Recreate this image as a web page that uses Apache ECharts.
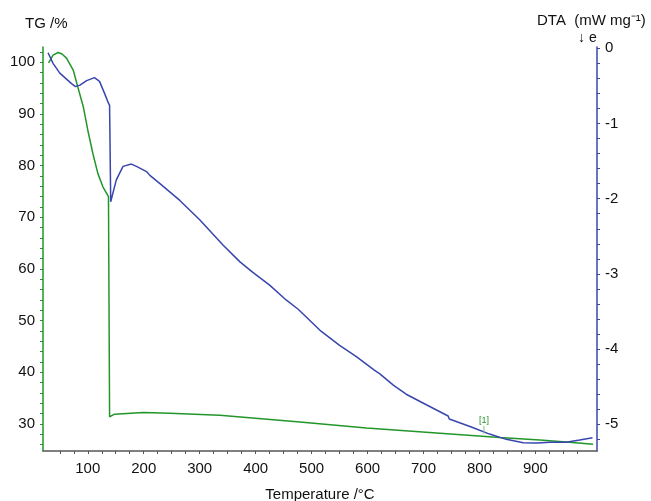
<!DOCTYPE html>
<html>
<head>
<meta charset="utf-8">
<script src="https://cdn.jsdelivr.net/npm/echarts@6/dist/echarts.min.js"></script>
<style>
  html, body { margin: 0; padding: 0; background: #fff; }
  #chart { width: 651px; height: 501px; }
</style>
</head>
<body>
<div id="chart"></div>
<script>
// TG curve (left axis, %)
var tgTemp  = [30, 38, 47, 54, 62, 74, 82, 92, 100, 109, 118, 127, 137, 139, 148, 199, 246, 336, 479, 598, 717, 836, 908, 955, 1003];
var tgValue = [99.9, 101.4, 101.9, 101.6, 100.8, 98.5, 95.3, 91.4, 86.9, 82.4, 78.5, 75.9, 74.0, 31.4, 31.9, 32.2, 32.1, 31.7, 30.4, 29.2, 28.3, 27.4, 26.9, 26.5, 26.1];

// DTA curve (right axis, mW mg-1)
var dtaTemp  = [29, 38, 50, 62, 71, 78, 86, 98, 112, 121, 130, 137, 139, 141, 151, 163, 178, 187, 205, 211, 229, 264, 300, 342, 372, 395, 425, 455, 476, 515, 550, 580, 612, 616, 622, 646, 669, 705, 744, 746, 749, 783, 790, 793, 818, 848, 878, 898, 900, 903, 926, 955, 979, 1002];
var dtaValue = [-0.06, -0.2, -0.33, -0.41, -0.47, -0.51, -0.49, -0.43, -0.39, -0.44, -0.6, -0.73, -0.76, -2.04, -1.75, -1.57, -1.54, -1.57, -1.64, -1.69, -1.8, -2.02, -2.28, -2.62, -2.84, -2.98, -3.15, -3.35, -3.47, -3.75, -3.95, -4.1, -4.28, -4.3, -4.33, -4.48, -4.6, -4.74, -4.89, -4.93, -4.91, -5.03, -5.05, -5.04, -5.13, -5.2, -5.245, -5.25, -5.27, -5.25, -5.24, -5.24, -5.21, -5.18];

// axis labels
var tempLabels = [100, 200, 300, 400, 500, 600, 700, 800, 900];
var tgLabels = [30, 40, 50, 60, 70, 80, 90, 100];
var dtaLabels = [0, -1, -2, -3, -4, -5];

// marker [1]
var markTemp = 808;
var markTg = 27.9;

var tempTicks = [], tgTicks = [], dtaTicks = [];
for (var t = 50; t <= 975; t += 25) tempTicks.push(t);
for (var g = 26; g <= 102; g += 2) tgTicks.push(g);
for (var k = 0; k <= 26; k++) dtaTicks.push(-k * 0.2);

var green = '#23962b';
var blue = '#3946ad';
var font = 'Liberation Sans, Arial, sans-serif';

var tgData = tgTemp.map(function (v, i) { return [v, tgValue[i]]; });
var dtaData = dtaTemp.map(function (v, i) { return [v, dtaValue[i]]; });

var option = {
    animation: false,
    backgroundColor: '#fff',
    textStyle: { fontFamily: font },
    grid: {
        left: 43,
        right: 54,
        top: 47,
        bottom: 50,
        containLabel: false,
        outerBoundsMode: 'none'
    },
    graphic: [
        {
            type: 'text', left: 25, top: 16,
            style: { text: 'TG /%', font: '15px ' + font, fill: '#111' }
        },
        {
            type: 'text', left: 537, top: 13,
            style: { text: 'DTA  (mW mg\u207B\u00B9)', font: '15px ' + font, fill: '#111' }
        },
        {
            type: 'text', left: 578, top: 31,
            style: { text: '\u2193 e', font: '14px ' + font, fill: '#111' }
        }
    ],
    xAxis: {
        type: 'value',
        min: 20,
        max: 1010,
        name: 'Temperature /\u00B0C',
        nameLocation: 'middle',
        nameGap: 36,
        nameTextStyle: { fontSize: 15, color: '#111', fontFamily: font },
        splitLine: { show: false },
        axisLine: { onZero: false, lineStyle: { color: '#555', width: 1.5 } },
        axisTick: { customValues: tempTicks, length: 3, lineStyle: { color: '#555' } },
        axisLabel: { customValues: tempLabels, fontSize: 15, color: '#111', margin: 10 }
    },
    yAxis: [
        {
            type: 'value',
            position: 'left',
            min: 24.77,
            max: 102.96,
            splitLine: { show: false },
            axisLine: { show: true, onZero: false, lineStyle: { color: green, width: 1.5 } },
            axisTick: { show: true, customValues: tgTicks, length: 3, lineStyle: { color: green } },
            axisLabel: { customValues: tgLabels, fontSize: 15, color: '#111', margin: 8 }
        },
        {
            type: 'value',
            position: 'right',
            min: -5.355,
            max: 0.017,
            splitLine: { show: false },
            axisLine: { show: true, onZero: false, lineStyle: { color: blue, width: 1.5 } },
            axisTick: { show: true, customValues: dtaTicks, length: 3, lineStyle: { color: blue } },
            axisLabel: { customValues: dtaLabels, fontSize: 15, color: '#111', margin: 8 }
        }
    ],
    series: [
        {
            name: 'TG',
            type: 'line',
            yAxisIndex: 0,
            data: tgData,
            showSymbol: false,
            lineStyle: { color: green, width: 1.5 },
            markPoint: {
                symbol: 'rect',
                symbolSize: [1, 8],
                symbolOffset: [0, -5],
                itemStyle: { color: '#7fbf7f' },
                label: {
                    show: true,
                    position: 'top',
                    distance: 1,
                    formatter: '[1]',
                    fontSize: 9,
                    color: green
                },
                data: [{ coord: [markTemp, markTg] }]
            }
        },
        {
            name: 'DTA',
            type: 'line',
            yAxisIndex: 1,
            data: dtaData,
            showSymbol: false,
            lineStyle: { color: blue, width: 1.5 }
        }
    ]
};

var chart = echarts.init(document.getElementById('chart'));
chart.setOption(option);
</script>
</body>
</html>
